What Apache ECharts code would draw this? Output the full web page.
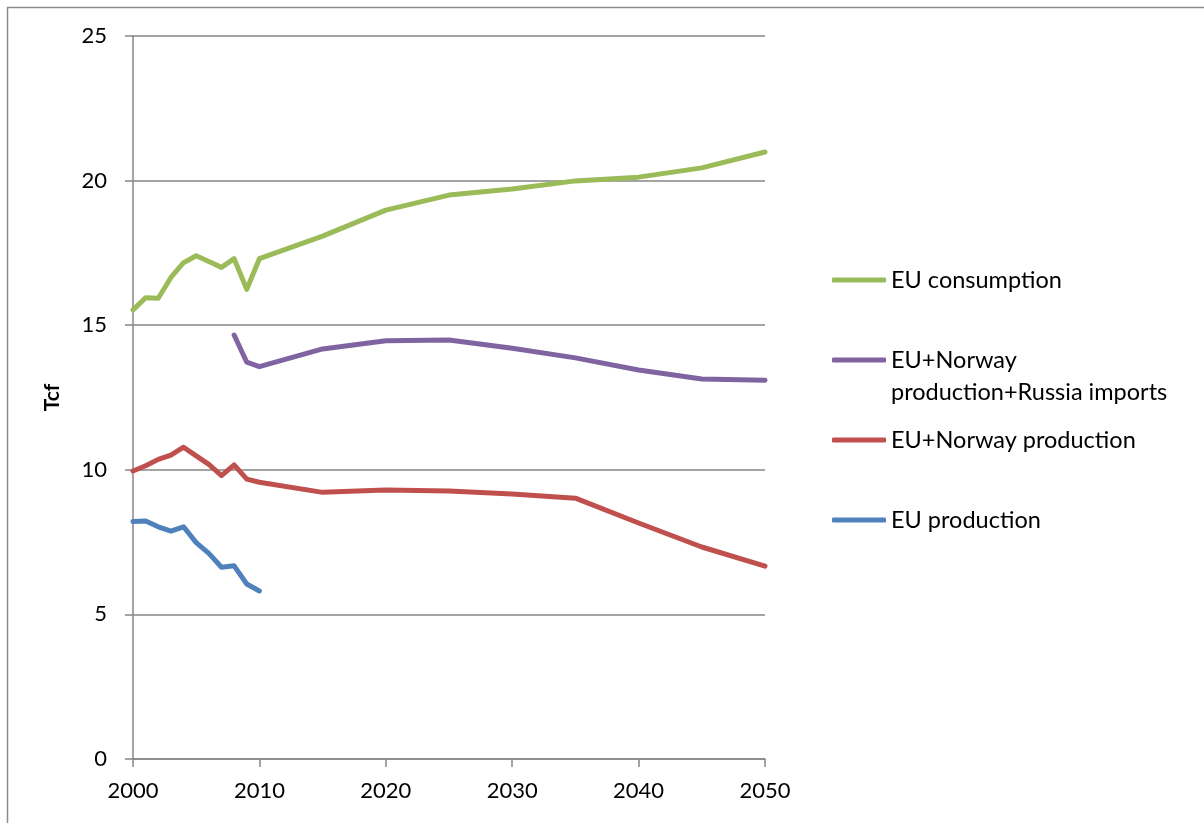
<!DOCTYPE html>
<html>
<head>
<meta charset="utf-8">
<script src="https://cdn.jsdelivr.net/npm/echarts@6/dist/echarts.min.js"></script>
<style>html,body{margin:0;padding:0;background:#fff}#c{width:1204px;height:823px}</style>
</head>
<body>
<div id="c"></div>
<script>
const years = [2000,2001,2002,2003,2004,2005,2006,2007,2008,2009,2010,2015,2020,2025,2030,2035,2040,2045,2050];
const euConsumption = [15.53,15.95,15.93,16.65,17.16,17.40,17.20,17.00,17.30,16.24,17.30,18.08,18.98,19.50,19.71,19.99,20.12,20.44,20.99];
const euNorwayRussia = [null,null,null,null,null,null,null,null,14.66,13.72,13.57,14.18,14.46,14.49,14.20,13.87,13.45,13.14,13.10];
const euNorwayProd = [9.96,10.14,10.36,10.51,10.78,10.48,10.19,9.80,10.17,9.68,9.57,9.22,9.30,9.27,9.16,9.02,8.16,7.33,6.67];
const euProduction = [8.21,8.23,8.03,7.88,8.03,7.48,7.11,6.63,6.68,6.05,5.81];
const xTicks = [2000,2010,2020,2030,2040,2050];
const yTicks = [0,5,10,15,20,25];

const names = ['EU consumption','EU+Norway production+Russia imports','EU+Norway production','EU production'];
const colors = ['#9BBB59','#8064A2','#C0504D','#4F81BD'];
const values = [euConsumption, euNorwayRussia, euNorwayProd, euProduction];

function pairs(vals){
  const out=[];
  vals.forEach((v,i)=>{ if(v!==null && v!==undefined) out.push([years[i], v]); });
  return out;
}

const font = 'Lato, "Open Sans", sans-serif';
const legendTops = [264, 312, 424, 504];

const chart = echarts.init(document.getElementById('c'));
chart.setOption({
  backgroundColor:'#fff',
  animation:false,
  textStyle:{fontFamily:font},
  grid:{left:133,right:439,top:36,bottom:64,containLabel:false},
  xAxis:{
    type:'value',min:xTicks[0],max:xTicks[xTicks.length-1],interval:10,
    axisLine:{show:true,lineStyle:{color:'#868686',width:1.5}},
    axisTick:{show:true,length:8,lineStyle:{color:'#868686',width:1.5}},
    splitLine:{show:false},
    axisLabel:{color:'#000',fontSize:22,fontFamily:font,margin:21,formatter:v=>String(v)}
  },
  yAxis:{
    type:'value',min:yTicks[0],max:yTicks[yTicks.length-1],interval:5,
    name:'Tcf',nameLocation:'middle',nameGap:70,nameRotate:90,
    nameTextStyle:{color:'#000',fontSize:21,fontWeight:'bold',fontFamily:font},
    axisLine:{show:true,lineStyle:{color:'#868686',width:1.5}},
    axisTick:{show:true,length:8,lineStyle:{color:'#868686',width:1.5}},
    splitLine:{show:true,lineStyle:{color:'#868686',width:1.5}},
    axisLabel:{color:'#000',fontSize:22,fontFamily:font,margin:26}
  },
  legend: names.map((n,i)=>({
    data:[n],left:832,top:legendTops[i],orient:'vertical',
    itemWidth:54,itemHeight:5,icon:'roundRect',itemGap:0,padding:0,
    formatter: i===1 ? '\nEU+Norway\nproduction+Russia imports' : '{name}',
    textStyle:{color:'#000',fontSize:23.5,fontFamily:font,lineHeight:32}
  })),
  graphic:[{type:'rect',shape:{x:7.5,y:7.5,width:1400,height:1000},style:{fill:'none',stroke:'#8c8c8c',lineWidth:1.5},silent:true,z:-1}],
  series: names.map((n,i)=>({
    name:n,type:'line',data:pairs(values[i]),showSymbol:false,symbol:'none',
    lineStyle:{color:colors[i],width:5,cap:'round',join:'round'},
    itemStyle:{color:colors[i]},connectNulls:false,smooth:false
  }))
});
</script>
</body>
</html>
